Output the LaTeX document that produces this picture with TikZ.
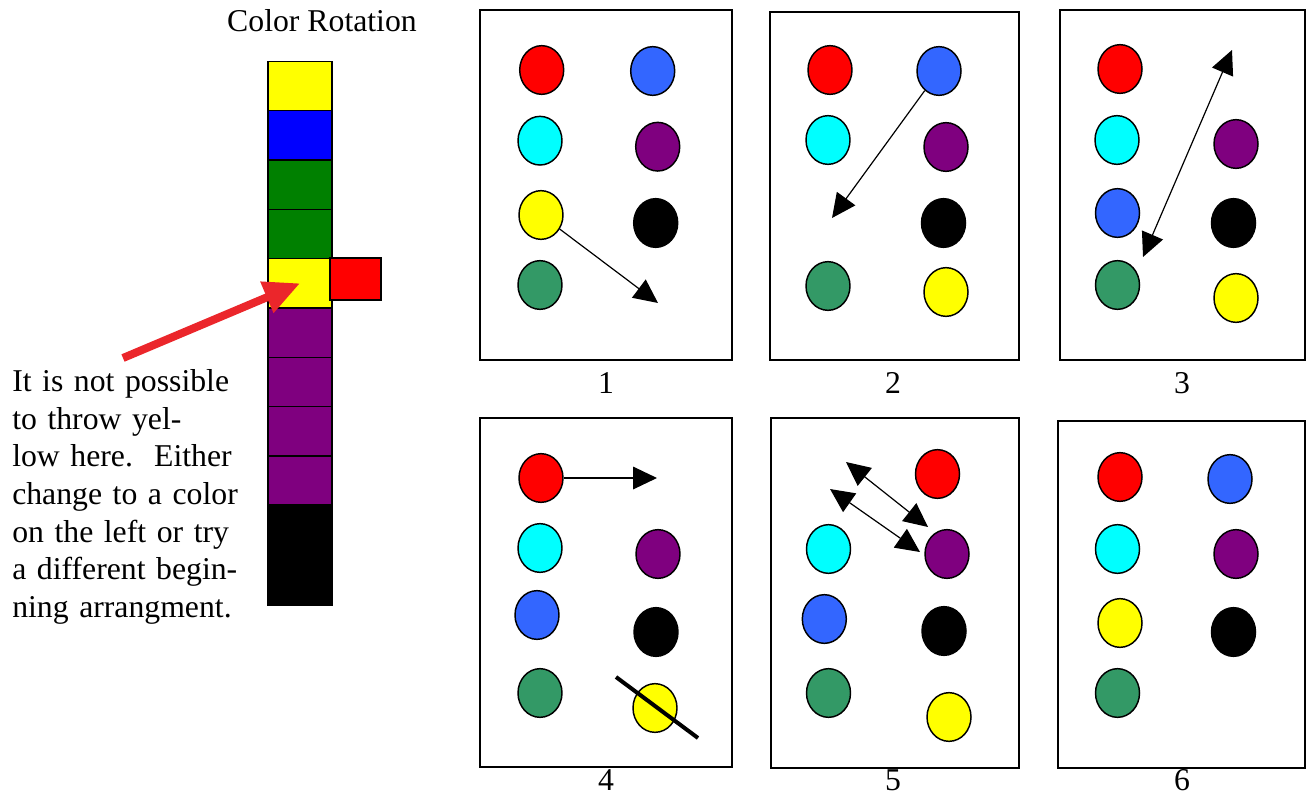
\documentclass[tikz,border=0pt]{standalone}
\usepackage{fontspec}
\setmainfont{Liberation Serif}
\usetikzlibrary{arrows.meta, shapes.geometric}

\begin{document}
\begin{tikzpicture}[x=0.75pt, y=-0.75pt,
    disc/.style={ellipse, draw=black, line width=1.1pt, minimum width=33pt, minimum height=36.5pt, inner sep=0pt},
    seg/.style={draw=black, line width=1.1pt, minimum width=48pt, minimum height=37pt, inner sep=0pt},
    panel/.style={draw=black, line width=2pt},
    throwarrow/.style={line width=0.9pt, -{Triangle[length=18pt, width=17pt]}},
    tradearrow/.style={line width=0.9pt, {Triangle[length=18pt, width=17pt]}-{Triangle[length=18pt, width=17pt]}},
    numtext/.style={font=\fontsize{23.8}{28.2}\selectfont, inner sep=0pt, anchor=base}]

    \definecolor{discRed}{HTML}{FF0000}
    \definecolor{discBlue}{HTML}{3366FF}
    \definecolor{discCyan}{HTML}{00FFFF}
    \definecolor{discPurple}{HTML}{7F007F}
    \definecolor{discGreen}{HTML}{339966}
    \definecolor{discYellow}{HTML}{FFFF00}
    \definecolor{barBlue}{HTML}{0000FF}
    \definecolor{barGreen}{HTML}{008000}
    \definecolor{pointerRed}{HTML}{EB262B}

    % Fix the page size
    \useasboundingbox (0,0) rectangle (1309,803);

    % Title
    \node[numtext] (title) at (322,31.7) {Color Rotation};

    % Draw the colour rotation bar
    \foreach \c [count=\i] in {discYellow, barBlue, barGreen, barGreen, discYellow, discPurple, discPurple, discPurple, discPurple}
        \node[seg, fill=\c] (seg\i) at (300,36.67+49.33*\i) {};
    \node[seg, fill=black, minimum height=75pt] (seg10) at (300,555) {};
    \node[seg, fill=discRed, minimum width=38pt, minimum height=31.5pt] (redsq) at (355.5,279) {};

    % Pointer from the note to the yellow slot
    \coordinate (tail) at (123,358);
    \draw[pointerRed, line width=6pt, -{Triangle[length=27pt, width=24pt]}] (tail) -- (seg5.center);

    % Note
    \node[numtext, anchor=base west, text width=175pt, align=left] (note) at (12,391.7)
        {It is not possible\\to throw yel-\\low here.\ \ Either\\change to a color\\on the left or try\\a different begin-\\ning arrangment.};

    % Draw the panels
    \draw[panel] (480,10) rectangle (732,360);
    \draw[panel] (770,12) rectangle (1019,360);
    \draw[panel] (1060,10) rectangle (1305,360);
    \draw[panel] (480,418) rectangle (732,767);
    \draw[panel] (771,418) rectangle (1019,768);
    \draw[panel] (1058,421) rectangle (1305,768);

    % Panel 1
    \foreach \n/\x/\y/\c in {red/541.7/70/discRed, blue/652.7/71/discBlue, cyan/540/140.7/discCyan,
        purple/657.7/146.7/discPurple, yellow/541/215/discYellow, black/655.7/223/black, green/540/285/discGreen}
        \node[disc, fill=\c] (p1\n) at (\x,\y) {};
    \coordinate (p1tip) at (658,303);
    \draw[throwarrow] (p1yellow) -- (p1tip);

    % Panel 2
    \foreach \n/\x/\y/\c in {red/830/70/discRed, blue/939/71/discBlue, cyan/828/140/discCyan,
        purple/946/147/discPurple, black/943.5/223/black, green/828/286/discGreen, yellow/946/292/discYellow}
        \node[disc, fill=\c] (p2\n) at (\x,\y) {};
    \coordinate (p2tip) at (832,218);
    \draw[throwarrow] (p2blue) -- (p2tip);

    % Panel 3
    \foreach \n/\x/\y/\c in {red/1120/69/discRed, cyan/1117/140/discCyan, purple/1236/144/discPurple,
        blue/1117.5/213/discBlue, black/1233.5/223/black, green/1117.5/285/discGreen, yellow/1236/298/discYellow}
        \node[disc, fill=\c] (p3\n) at (\x,\y) {};
    \coordinate (p3top) at (1232,50);
    \coordinate (p3low) at (1143,257);
    \draw[tradearrow] (p3low) -- (p3top);

    % Panel 4
    \foreach \n/\x/\y/\c in {red/541/478/discRed, cyan/540/548/discCyan, purple/658/554/discPurple,
        blue/537/615/discBlue, black/656/632/black, green/540/693/discGreen, yellow/655/708/discYellow}
        \node[disc, fill=\c] (p4\n) at (\x,\y) {};
    \coordinate (p4tip) at (657,478);
    \draw[throwarrow] (p4red) -- (p4tip);
    \coordinate (p4cutA) at (616,677);
    \coordinate (p4cutB) at (698,738);
    \draw[line width=3pt] (p4cutA) -- (p4cutB);

    % Panel 5
    \foreach \n/\x/\y/\c in {red/937.5/474/discRed, cyan/828.5/549/discCyan, purple/947/554/discPurple,
        blue/824.3/619/discBlue, black/944/631/black, green/828.5/693/discGreen, yellow/949/717/discYellow}
        \node[disc, fill=\c] (p5\n) at (\x,\y) {};
    \coordinate (p5a1) at (846,462);
    \coordinate (p5a2) at (928,527);
    \coordinate (p5b1) at (830,489);
    \coordinate (p5b2) at (920,552);
    \draw[tradearrow] (p5a1) -- (p5a2);
    \draw[tradearrow] (p5b1) -- (p5b2);

    % Panel 6
    \foreach \n/\x/\y/\c in {red/1120/477/discRed, blue/1230/479/discBlue, cyan/1117.5/549/discCyan,
        purple/1236/554/discPurple, yellow/1120/623/discYellow, black/1233.5/632/black, green/1117.5/693/discGreen}
        \node[disc, fill=\c] (p6\n) at (\x,\y) {};

    % Panel numbers
    \node[numtext] (num1) at (606,393) {1};
    \node[numtext] (num2) at (893,393) {2};
    \node[numtext] (num3) at (1182,393) {3};
    \node[numtext] (num4) at (606,790) {4};
    \node[numtext] (num5) at (893,790) {5};
    \node[numtext] (num6) at (1182,790) {6};

\end{tikzpicture}
\end{document}
